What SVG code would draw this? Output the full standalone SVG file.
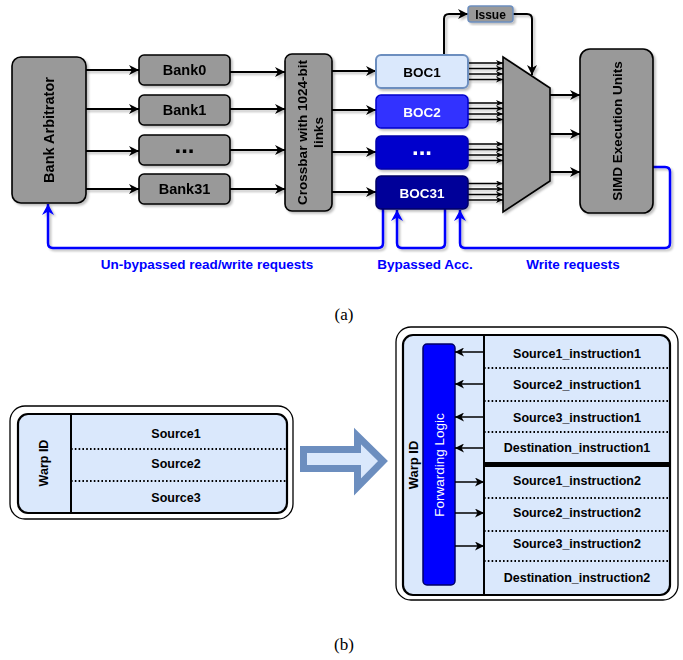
<svg xmlns="http://www.w3.org/2000/svg" width="683" height="660" viewBox="0 0 683 660">
<style>
  .box{fill:#999999;stroke:#000;stroke-width:1.6}
  .t{font-family:"Liberation Sans",Arial,sans-serif;font-weight:bold;text-anchor:middle}
  .blk{stroke:#000;stroke-width:2;fill:none}
  .thin{stroke:#000;stroke-width:1.4;fill:none}
  .blue{stroke:#0000ff;stroke-width:2.5;fill:none;stroke-linejoin:round}
  .bl{fill:#0000ff;font-size:13.5px}
  .dot{stroke:#000;stroke-width:2;stroke-dasharray:1.6 2.2;fill:none}
  .row{font-size:12.5px;fill:#000}
</style>
<defs>
  <filter id="sh" x="-10%" y="-10%" width="130%" height="130%">
    <feDropShadow dx="2" dy="2" stdDeviation="1" flood-color="#000" flood-opacity="0.25"/>
  </filter>
  <marker id="ah" markerUnits="userSpaceOnUse" markerWidth="11" markerHeight="10" refX="10" refY="5" orient="auto">
    <path d="M0,0 L10,5 L0,10 L3,5 Z" fill="#000"/>
  </marker>
  <marker id="as" markerUnits="userSpaceOnUse" markerWidth="8" markerHeight="6" refX="7" refY="3" orient="auto">
    <path d="M0,0 L7,3 L0,6 L2,3 Z" fill="#000"/>
  </marker>
  <marker id="am" markerUnits="userSpaceOnUse" markerWidth="10" markerHeight="9" refX="9" refY="4.5" orient="auto">
    <path d="M0,0 L9,4.5 L0,9 L2.5,4.5 Z" fill="#000"/>
  </marker>
  <marker id="ab" markerUnits="userSpaceOnUse" markerWidth="12" markerHeight="12" refX="11" refY="6" orient="auto">
    <path d="M0,0 L11,6 L0,12 L3.5,6 Z" fill="#0000ff"/>
  </marker>
</defs>

<!-- (a) top diagram -->
<g id="connectors" filter="url(#sh)">
  <!-- arbitrator to banks -->
  <line class="blk" x1="86" y1="70" x2="139" y2="70" marker-end="url(#ah)"/>
  <line class="blk" x1="86" y1="109" x2="139" y2="109" marker-end="url(#ah)"/>
  <line class="blk" x1="86" y1="151" x2="139" y2="151" marker-end="url(#ah)"/>
  <line class="blk" x1="86" y1="189" x2="139" y2="189" marker-end="url(#ah)"/>
  <!-- banks to crossbar -->
  <line class="blk" x1="230" y1="72" x2="285" y2="72" marker-end="url(#ah)"/>
  <line class="blk" x1="230" y1="109" x2="285" y2="109" marker-end="url(#ah)"/>
  <line class="blk" x1="230" y1="150" x2="285" y2="150" marker-end="url(#ah)"/>
  <line class="blk" x1="230" y1="189" x2="285" y2="189" marker-end="url(#ah)"/>
  <!-- crossbar to BOCs -->
  <line class="blk" x1="332" y1="71" x2="376" y2="71" marker-end="url(#ah)"/>
  <line class="blk" x1="332" y1="110" x2="376" y2="110" marker-end="url(#ah)"/>
  <line class="blk" x1="332" y1="152" x2="376" y2="152" marker-end="url(#ah)"/>
  <line class="blk" x1="332" y1="192" x2="376" y2="192" marker-end="url(#ah)"/>
  <!-- BOC to mux -->
  <g class="thin">
    <line x1="468" y1="63" x2="503" y2="63" marker-end="url(#as)"/>
    <line x1="468" y1="68.5" x2="503" y2="68.5" marker-end="url(#as)"/>
    <line x1="468" y1="74" x2="503" y2="74" marker-end="url(#as)"/>
    <line x1="468" y1="79.5" x2="503" y2="79.5" marker-end="url(#as)"/>
    <line x1="468" y1="103" x2="503" y2="103" marker-end="url(#as)"/>
    <line x1="468" y1="108.5" x2="503" y2="108.5" marker-end="url(#as)"/>
    <line x1="468" y1="114" x2="503" y2="114" marker-end="url(#as)"/>
    <line x1="468" y1="119.5" x2="503" y2="119.5" marker-end="url(#as)"/>
    <line x1="468" y1="144" x2="503" y2="144" marker-end="url(#as)"/>
    <line x1="468" y1="149.5" x2="503" y2="149.5" marker-end="url(#as)"/>
    <line x1="468" y1="155" x2="503" y2="155" marker-end="url(#as)"/>
    <line x1="468" y1="160.5" x2="503" y2="160.5" marker-end="url(#as)"/>
    <line x1="468" y1="183.5" x2="503" y2="183.5" marker-end="url(#as)"/>
    <line x1="468" y1="189" x2="503" y2="189" marker-end="url(#as)"/>
    <line x1="468" y1="194.5" x2="503" y2="194.5" marker-end="url(#as)"/>
    <line x1="468" y1="200" x2="503" y2="200" marker-end="url(#as)"/>
  </g>
  <!-- mux to SIMD -->
  <line class="blk" x1="550" y1="95" x2="580" y2="95" marker-end="url(#ah)"/>
  <line class="blk" x1="550" y1="134" x2="580" y2="134" marker-end="url(#ah)"/>
  <line class="blk" x1="550" y1="172" x2="580" y2="172" marker-end="url(#ah)"/>
  <!-- issue path -->
  <path class="blk" d="M444,55 V19 Q444,14 449,14 H468" marker-end="url(#ah)"/>
  <path class="blk" d="M513,14 H527 Q532,14 532,19 V75" marker-end="url(#ah)"/>
  <!-- blue feedback paths -->
  <path class="blue" d="M383,209 V243 Q383,248 378,248 H53 Q48,248 48,243 V204" marker-end="url(#ab)"/>
  <path class="blue" d="M445,209 V243 Q445,248 440,248 H402 Q397,248 397,243 V210" marker-end="url(#ab)"/>
  <path class="blue" d="M653,167 H665 Q670,167 670,172 V243 Q670,248 665,248 H465 Q460,248 460,243 V210" marker-end="url(#ab)"/>
</g>

<g id="bank-arbitrator" filter="url(#sh)">
  <rect class="box" x="12" y="57" width="74" height="146" rx="9"/>
  <text class="t" font-size="14.5" transform="translate(49,130) rotate(-90)" dy="5">Bank Arbitrator</text>
</g>
<g id="bank0" filter="url(#sh)">
  <rect class="box" x="139" y="55" width="91" height="30" rx="5"/>
  <text class="t" font-size="14.5" x="184.5" y="75">Bank0</text>
</g>
<g id="bank1" filter="url(#sh)">
  <rect class="box" x="139" y="95" width="91" height="30" rx="5"/>
  <text class="t" font-size="14.5" x="184.5" y="115">Bank1</text>
</g>
<g id="bank-dots" filter="url(#sh)">
  <rect class="box" x="139" y="135" width="91" height="30" rx="5"/>
  <text class="t" font-size="24" x="184.5" y="153">...</text>
</g>
<g id="bank31" filter="url(#sh)">
  <rect class="box" x="139" y="174" width="91" height="30" rx="5"/>
  <text class="t" font-size="14.5" x="184.5" y="194">Bank31</text>
</g>
<g id="crossbar" filter="url(#sh)">
  <rect class="box" x="285" y="54" width="47" height="157" rx="7"/>
  <text class="t" font-size="13.5" transform="translate(301.5,132.5) rotate(-90)" dy="5">Crossbar with 1024-bit</text>
  <text class="t" font-size="13.5" transform="translate(317.5,132.5) rotate(-90)" dy="5">links</text>
</g>
<g id="boc1" filter="url(#sh)">
  <rect x="376" y="55" width="92" height="33" rx="5" fill="#dae8fc" stroke="#6c8ebf" stroke-width="2"/>
  <text class="t" font-size="13.5" x="422" y="76.5">BOC1</text>
</g>
<g id="boc2" filter="url(#sh)">
  <rect x="376" y="95" width="92" height="33" rx="5" fill="#3333ff" stroke="#0000cc" stroke-width="1.5"/>
  <text class="t" font-size="13.5" x="422" y="116.5" fill="#fff">BOC2</text>
</g>
<g id="boc-dots" filter="url(#sh)">
  <rect x="376" y="136" width="92" height="33" rx="5" fill="#0000cc" stroke="#0000aa" stroke-width="1.5"/>
  <text class="t" font-size="24" x="422" y="155" fill="#fff">...</text>
</g>
<g id="boc31" filter="url(#sh)">
  <rect x="376" y="176" width="92" height="33" rx="5" fill="#000099" stroke="#000066" stroke-width="1.5"/>
  <text class="t" font-size="13.5" x="422" y="197.5" fill="#fff">BOC31</text>
</g>
<g id="issue" filter="url(#sh)">
  <rect x="468" y="6" width="45" height="16" rx="3" fill="#999999" stroke="#6c8ebf" stroke-width="1.5"/>
  <text class="t" font-size="12" x="490.5" y="18.5">Issue</text>
</g>
<g id="mux" filter="url(#sh)">
  <polygon points="503,57 550,88 550,181 503,212" fill="#999999" stroke="#000" stroke-width="1.6"/>
</g>
<g id="simd" filter="url(#sh)">
  <rect class="box" x="580" y="49" width="73" height="164" rx="10"/>
  <text class="t" font-size="13.5" transform="translate(616.5,131) rotate(-90)" dy="5">SIMD Execution Units</text>
</g>
<g id="labels-a">
  <text class="t bl" x="207" y="268.5">Un-bypassed read/write requests</text>
  <text class="t bl" x="425" y="268.5">Bypassed Acc.</text>
  <text class="t bl" x="573" y="268.5">Write requests</text>
  <text x="344" y="320" font-family="Liberation Serif,'Times New Roman',serif" font-size="17" text-anchor="middle">(a)</text>
</g>

<!-- (b) bottom diagram -->
<g id="left-table">
  <rect x="10" y="406" width="283" height="113" rx="15" fill="#fff" stroke="#000" stroke-width="1.3"/>
  <rect x="18" y="414" width="269" height="99" rx="10" fill="#dae8fc" stroke="#000" stroke-width="2.2"/>
  <line x1="71" y1="414" x2="71" y2="513" stroke="#000" stroke-width="2"/>
  <line class="dot" x1="71" y1="449" x2="287" y2="449"/>
  <line class="dot" x1="71" y1="481" x2="287" y2="481"/>
  <text class="t" font-size="12.5" transform="translate(43,463) rotate(-90)" dy="4.5">Warp ID</text>
  <text class="t row" x="176" y="437.5">Source1</text>
  <text class="t row" x="176" y="467.5">Source2</text>
  <text class="t row" x="176" y="501.5">Source3</text>
</g>

<g id="block-arrow">
  <polygon points="303.5,449.5 357.5,449.5 357.5,436 383,461 357.5,487 357.5,468.5 303.5,468.5" fill="#dae8fc" stroke="#6c8ebf" stroke-width="7" stroke-linejoin="miter"/>
</g>

<g id="right-table">
  <rect x="396" y="327" width="282" height="273" rx="15" fill="#fff" stroke="#000" stroke-width="1.3"/>
  <rect x="403" y="335" width="267" height="260" rx="10" fill="#dae8fc" stroke="#000" stroke-width="2.2"/>
  <line x1="484" y1="335" x2="484" y2="595" stroke="#000" stroke-width="2"/>
  <line class="dot" x1="484" y1="368" x2="670" y2="368"/>
  <line class="dot" x1="484" y1="401" x2="670" y2="401"/>
  <line class="dot" x1="484" y1="432" x2="670" y2="432"/>
  <line x1="484" y1="464.5" x2="670" y2="464.5" stroke="#000" stroke-width="5"/>
  <line class="dot" x1="484" y1="498" x2="670" y2="498"/>
  <line class="dot" x1="484" y1="531" x2="670" y2="531"/>
  <line class="dot" x1="484" y1="561" x2="670" y2="561"/>
  <text class="t" font-size="13" transform="translate(413,465) rotate(-90)" dy="4.5">Warp ID</text>
  <text class="t row" x="577" y="357.5">Source1_instruction1</text>
  <text class="t row" x="577" y="388.5">Source2_instruction1</text>
  <text class="t row" x="577" y="421.5">Source3_instruction1</text>
  <text class="t row" x="577" y="451.5">Destination_instruction1</text>
  <text class="t row" x="577" y="484.5">Source1_instruction2</text>
  <text class="t row" x="577" y="516.5">Source2_instruction2</text>
  <text class="t row" x="577" y="547.5">Source3_instruction2</text>
  <text class="t row" x="577" y="581.5">Destination_instruction2</text>
</g>
<g id="forwarding-logic">
  <rect x="423" y="344" width="32" height="241" rx="4" fill="#0000ff" stroke="#000066" stroke-width="1.5"/>
  <text transform="translate(439,465) rotate(-90)" dy="5" font-family="Liberation Sans,Arial,sans-serif" font-size="13.5" fill="#fff" text-anchor="middle">Forwarding Logic</text>
</g>
<g id="connectors-b" stroke="#000" stroke-width="1.5">
  <line x1="484" y1="352" x2="455" y2="352" marker-end="url(#am)"/>
  <line x1="484" y1="384" x2="455" y2="384" marker-end="url(#am)"/>
  <line x1="484" y1="417" x2="455" y2="417" marker-end="url(#am)"/>
  <line x1="484" y1="448" x2="455" y2="448" marker-end="url(#am)"/>
  <line x1="455" y1="482" x2="484" y2="482" marker-end="url(#am)"/>
  <line x1="455" y1="513" x2="484" y2="513" marker-end="url(#am)"/>
  <line x1="455" y1="546" x2="484" y2="546" marker-end="url(#am)"/>
</g>
<text x="344" y="650" font-family="Liberation Serif,'Times New Roman',serif" font-size="17" text-anchor="middle">(b)</text>
</svg>
